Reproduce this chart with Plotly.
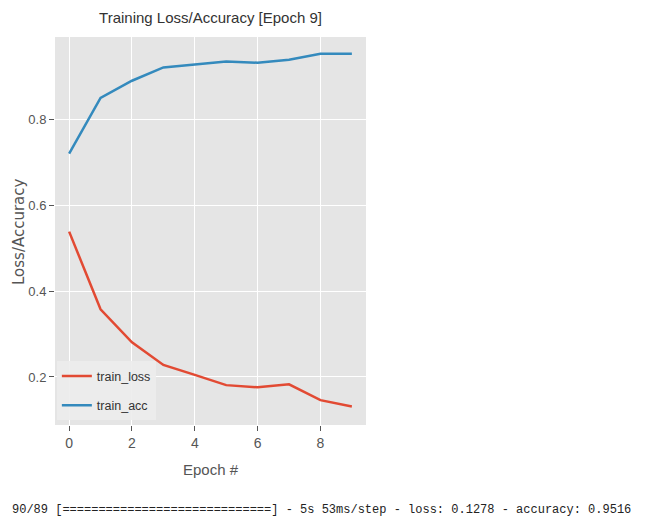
import plotly.graph_objects as go

epochs = list(range(10))
train_loss = [0.539, 0.358, 0.281, 0.228, 0.205, 0.181, 0.176, 0.183, 0.146, 0.131]
train_acc = [0.721, 0.851, 0.891, 0.922, 0.929, 0.936, 0.933, 0.940, 0.954, 0.954]
x_ticks = [0, 2, 4, 6, 8]
y_ticks = [0.2, 0.4, 0.6, 0.8]
title_text = "Training Loss/Accuracy [Epoch 9]"
y_title = "Loss/Accuracy"
log_text = "90/89 [=============================] - 5s 53ms/step - loss: 0.1278 - accuracy: 0.9516"

COND = "Liberation Sans Narrow, Liberation Sans, Arial"
L, R, T, B = 55, 282, 37, 104
PW, PH = 648 - L - R, 529 - T - B

fig = go.Figure()
fig.add_trace(go.Scatter(x=epochs, y=train_loss, mode="lines", name="train_loss",
                         legendgroup="a", line=dict(color="#E24A33", width=2.5)))
fig.add_trace(go.Scatter(x=epochs, y=train_acc, mode="lines", name="train_acc",
                         legendgroup="b", line=dict(color="#348ABD", width=2.5)))

fig.update_layout(
    width=648, height=529,
    margin=dict(l=L, r=R, t=T, b=B, autoexpand=False),
    paper_bgcolor="white", plot_bgcolor="#E5E5E5",
    title=dict(text=title_text, x=(L + PW / 2) / 648, xanchor="center",
               y=1 - 18 / 529, yanchor="middle",
               font=dict(family=COND, size=15, color="#333")),
    showlegend=True,
    legend=dict(x=0.006, y=0.012, xanchor="left", yanchor="bottom",
                bgcolor="rgba(236,236,236,0.9)", bordercolor="rgba(0,0,0,0)",
                font=dict(family=COND, size=12.5, color="#333"),
                itemwidth=30, tracegroupgap=10),
    font=dict(family=COND, color="#555"),
)
fig.update_xaxes(range=[-0.45, 9.45], tickvals=x_ticks, ticktext=[str(v) for v in x_ticks],
                 showgrid=True, gridcolor="white", gridwidth=1, zeroline=False,
                 ticks="outside", ticklen=5, tickcolor="#555", tickwidth=1,
                 tickfont=dict(family=COND, size=14, color="#555"),
                 title=dict(text="Epoch #", font=dict(family=COND, size=15, color="#555"), standoff=14),
                 showline=False, automargin=False)
fig.update_yaxes(range=[0.088, 0.993], tickvals=y_ticks, ticktext=[f"{v:.1f}" for v in y_ticks],
                 showgrid=True, gridcolor="white", gridwidth=1, zeroline=False,
                 ticks="outside", ticklen=5, tickcolor="#555", tickwidth=1,
                 tickfont=dict(family=COND, size=13, color="#555"),
                 showline=False, automargin=False)

fig.add_annotation(text=y_title, xref="paper", yref="paper",
                   x=(19 - L) / PW, y=(529 - B - 232) / PH, textangle=-90,
                   xanchor="center", yanchor="middle", showarrow=False,
                   font=dict(family="DejaVu Sans", size=15, color="#555"))
fig.add_annotation(text=log_text, xref="paper", yref="paper",
                   x=(10 - L) / PW, y=(529 - B - 510) / PH,
                   xanchor="left", yanchor="middle", showarrow=False,
                   font=dict(family="Liberation Mono, DejaVu Sans Mono", size=12, color="#222"))

fig.write_html("out.html", post_script="document.body.style.margin='0';",
               config={"displayModeBar": False})
